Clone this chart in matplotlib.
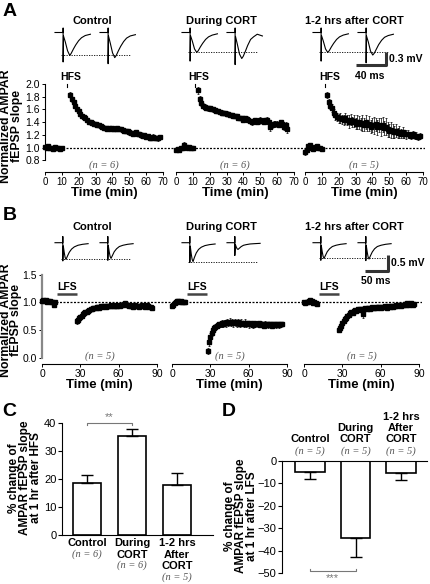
import numpy as np
import matplotlib.pyplot as plt
from matplotlib import transforms

plt.rcParams['font.family'] = ['Liberation Sans', 'DejaVu Sans']
plt.rcParams['axes.linewidth'] = 0.8

# ---------------- data ----------------
# Panel A: normalized AMPAR fEPSP slope after HFS (time in min)
a_ctrl_base = [1.01, 1.00, 1.02, 0.99, 1.00, 0.98, 1.01, 1.00, 0.99, 0.98, 0.99]
a_ctrl_base_err = [0.02, 0.02, 0.01, 0.02, 0.02, 0.02, 0.01, 0.02, 0.02, 0.02, 0.02]
a_ctrl_post = [1.83, 1.76, 1.72, 1.65, 1.60, 1.57, 1.53, 1.50, 1.48, 1.46,
               1.44, 1.41, 1.40, 1.39, 1.37, 1.38, 1.36, 1.35, 1.34, 1.33,
               1.31, 1.31, 1.30, 1.31, 1.30, 1.31, 1.30, 1.30, 1.31, 1.29,
               1.30, 1.28, 1.27, 1.26, 1.27, 1.24, 1.23, 1.21, 1.23, 1.24,
               1.22, 1.21, 1.20, 1.18, 1.20, 1.17, 1.18, 1.16, 1.15, 1.17,
               1.15, 1.16, 1.15, 1.17]
a_ctrl_post_err = [0.04, 0.04, 0.03, 0.03, 0.03, 0.03, 0.03, 0.03, 0.03, 0.03,
                   0.03, 0.03, 0.02, 0.03, 0.03, 0.02, 0.03, 0.03, 0.02, 0.03,
                   0.03, 0.02, 0.03, 0.02, 0.03, 0.02, 0.03, 0.03, 0.02, 0.03,
                   0.03, 0.03, 0.02, 0.03, 0.03, 0.04, 0.03, 0.03, 0.03, 0.02,
                   0.03, 0.03, 0.04, 0.03, 0.03, 0.03, 0.02, 0.03, 0.03, 0.04,
                   0.03, 0.03, 0.04, 0.03]
a_ctrl_post_start = 15

a_dur_base = [0.97, 0.98, 0.97, 0.99, 1.00, 1.05, 1.01, 1.00, 1.01, 1.00, 0.99]
a_dur_base_err = [0.02, 0.02, 0.03, 0.02, 0.02, 0.04, 0.02, 0.02, 0.02, 0.02, 0.02]
a_dur_post = [1.90, 1.77, 1.70, 1.66, 1.64, 1.63, 1.62, 1.62, 1.61, 1.60,
              1.59, 1.58, 1.58, 1.56, 1.55, 1.55, 1.54, 1.53, 1.53, 1.52,
              1.51, 1.50, 1.50, 1.49, 1.47, 1.46, 1.47, 1.44, 1.46, 1.45,
              1.44, 1.42, 1.40, 1.42, 1.43, 1.41, 1.42, 1.44, 1.42, 1.41,
              1.43, 1.44, 1.40, 1.32, 1.35, 1.38, 1.37, 1.38, 1.36, 1.40,
              1.37, 1.33, 1.36, 1.30]
a_dur_post_err = [0.05, 0.04, 0.04, 0.04, 0.04, 0.04, 0.04, 0.04, 0.03, 0.04,
                  0.03, 0.04, 0.03, 0.03, 0.04, 0.03, 0.03, 0.04, 0.03, 0.03,
                  0.03, 0.04, 0.03, 0.03, 0.04, 0.03, 0.03, 0.04, 0.03, 0.04,
                  0.04, 0.03, 0.04, 0.03, 0.04, 0.03, 0.04, 0.04, 0.03, 0.04,
                  0.04, 0.04, 0.03, 0.05, 0.04, 0.04, 0.05, 0.04, 0.04, 0.04,
                  0.05, 0.05, 0.04, 0.07]
a_dur_post_start = 13

a_aft_base = [0.93, 0.97, 1.02, 1.04, 1.00, 0.98, 1.01, 1.02, 0.99, 1.00, 0.98]
a_aft_base_err = [0.05, 0.03, 0.02, 0.03, 0.02, 0.02, 0.03, 0.02, 0.02, 0.02, 0.02]
a_aft_post = [1.83, 1.72, 1.66, 1.62, 1.55, 1.51, 1.48, 1.46, 1.47, 1.45,
              1.44, 1.46, 1.43, 1.41, 1.44, 1.40, 1.42, 1.38, 1.41, 1.40,
              1.37, 1.39, 1.36, 1.40, 1.35, 1.38, 1.33, 1.36, 1.35, 1.37,
              1.32, 1.35, 1.33, 1.36, 1.31, 1.33, 1.29, 1.27, 1.28, 1.26,
              1.25, 1.27, 1.23, 1.25, 1.22, 1.24, 1.22, 1.21, 1.22, 1.20,
              1.19, 1.21, 1.18, 1.19, 1.17, 1.18]
a_aft_post_err = [0.05, 0.05, 0.05, 0.06, 0.06, 0.07, 0.06, 0.07, 0.08, 0.07,
                  0.08, 0.09, 0.08, 0.10, 0.09, 0.08, 0.10, 0.09, 0.11, 0.10,
                  0.09, 0.12, 0.10, 0.11, 0.09, 0.12, 0.10, 0.11, 0.13, 0.10,
                  0.12, 0.11, 0.14, 0.12, 0.11, 0.13, 0.12, 0.10, 0.12, 0.11,
                  0.09, 0.10, 0.08, 0.09, 0.07, 0.08, 0.06, 0.07, 0.06, 0.05,
                  0.06, 0.05, 0.05, 0.06, 0.05, 0.05]
a_aft_post_start = 13

a_hfs_time = [13, 11, 12]
a_n = ['(n = 6)', '(n = 6)', '(n = 5)']

# Panel B: normalized AMPAR fEPSP slope after LFS
b_ctrl_base = [1.03, 1.05, 1.02, 1.04, 1.01, 1.03, 1.02, 1.00, 1.01, 0.95, 1.00]
b_ctrl_base_err = [0.02, 0.02, 0.02, 0.02, 0.01, 0.02, 0.02, 0.02, 0.02, 0.02, 0.02]
b_ctrl_post = [0.66, 0.68, 0.72, 0.73, 0.76, 0.78, 0.80, 0.82, 0.83, 0.85,
               0.86, 0.87, 0.88, 0.89, 0.90, 0.89, 0.91, 0.92, 0.90, 0.93,
               0.92, 0.93, 0.94, 0.92, 0.93, 0.94, 0.93, 0.95, 0.94, 0.93,
               0.95, 0.94, 0.93, 0.95, 0.94, 0.96, 0.95, 0.97, 0.98, 0.96,
               0.95, 0.94, 0.95, 0.93, 0.92, 0.94, 0.95, 0.93, 0.94, 0.92,
               0.94, 0.95, 0.93, 0.94, 0.92, 0.95, 0.93, 0.92, 0.91, 0.90]
b_ctrl_post_err = [0.06, 0.05, 0.05, 0.04, 0.04, 0.04, 0.03, 0.03, 0.03, 0.03,
                   0.03, 0.03, 0.02, 0.03, 0.02, 0.03, 0.02, 0.02, 0.03, 0.02,
                   0.02, 0.03, 0.02, 0.02, 0.03, 0.02, 0.02, 0.03, 0.02, 0.02,
                   0.03, 0.02, 0.02, 0.03, 0.02, 0.02, 0.03, 0.02, 0.02, 0.03,
                   0.02, 0.02, 0.03, 0.02, 0.02, 0.03, 0.02, 0.02, 0.03, 0.02,
                   0.02, 0.03, 0.02, 0.02, 0.03, 0.02, 0.02, 0.03, 0.02, 0.02]
b_ctrl_post_start = 27

b_dur_base = [0.94, 0.96, 0.98, 1.00, 1.02, 1.03, 1.01, 1.02, 1.00, 1.01, 1.01]
b_dur_base_err = [0.02, 0.02, 0.02, 0.02, 0.02, 0.02, 0.02, 0.02, 0.02, 0.02, 0.02]
b_dur_post = [0.12, 0.28, 0.38, 0.45, 0.50, 0.53, 0.56, 0.58, 0.59, 0.60,
              0.61, 0.62, 0.61, 0.63, 0.62, 0.64, 0.63, 0.65, 0.63, 0.64,
              0.62, 0.65, 0.63, 0.62, 0.64, 0.61, 0.63, 0.62, 0.60, 0.63,
              0.61, 0.62, 0.60, 0.62, 0.61, 0.59, 0.62, 0.60, 0.61, 0.60,
              0.62, 0.59, 0.61, 0.60, 0.58, 0.61, 0.60, 0.59, 0.61, 0.60,
              0.58, 0.60, 0.61, 0.59, 0.60, 0.61, 0.59, 0.60, 0.61]
b_dur_post_err = [0.06, 0.07, 0.06, 0.06, 0.05, 0.06, 0.05, 0.05, 0.06, 0.05,
                  0.05, 0.06, 0.05, 0.05, 0.06, 0.05, 0.05, 0.06, 0.05, 0.05,
                  0.06, 0.05, 0.05, 0.06, 0.05, 0.05, 0.06, 0.05, 0.05, 0.06,
                  0.05, 0.05, 0.06, 0.05, 0.05, 0.06, 0.05, 0.05, 0.04, 0.05,
                  0.05, 0.04, 0.05, 0.05, 0.04, 0.05, 0.04, 0.05, 0.04, 0.04,
                  0.05, 0.04, 0.04, 0.05, 0.04, 0.04, 0.05, 0.04, 0.04]
b_dur_post_start = 28

b_aft_base = [1.00, 0.99, 1.01, 1.00, 1.03, 1.05, 1.02, 0.98, 1.01, 0.99, 0.97]
b_aft_base_err = [0.02, 0.02, 0.02, 0.02, 0.02, 0.03, 0.02, 0.02, 0.02, 0.02, 0.02]
b_aft_post = [0.50, 0.53, 0.58, 0.62, 0.66, 0.69, 0.72, 0.75, 0.77, 0.80,
              0.82, 0.81, 0.84, 0.86, 0.85, 0.87, 0.86, 0.88, 0.87, 0.78,
              0.88, 0.89, 0.87, 0.90, 0.89, 0.88, 0.91, 0.90, 0.89, 0.91,
              0.90, 0.92, 0.91, 0.90, 0.92, 0.91, 0.93, 0.92, 0.90, 0.93,
              0.92, 0.94, 0.93, 0.92, 0.94, 0.95, 0.93, 0.95, 0.96, 0.94,
              0.96, 0.95, 0.97, 0.96, 0.98, 0.96, 0.97, 0.98, 0.96, 0.97]
b_aft_post_err = [0.03, 0.04, 0.04, 0.04, 0.03, 0.04, 0.04, 0.03, 0.04, 0.04,
                  0.03, 0.04, 0.03, 0.03, 0.04, 0.03, 0.03, 0.04, 0.03, 0.06,
                  0.03, 0.04, 0.03, 0.03, 0.04, 0.03, 0.03, 0.04, 0.03, 0.03,
                  0.03, 0.02, 0.03, 0.03, 0.02, 0.03, 0.03, 0.02, 0.03, 0.03,
                  0.02, 0.03, 0.02, 0.03, 0.02, 0.03, 0.02, 0.02, 0.03, 0.02,
                  0.02, 0.03, 0.02, 0.02, 0.03, 0.02, 0.02, 0.02, 0.03, 0.02]
b_aft_post_start = 27

b_lfs_window = (12, 27)
b_n = ['(n = 5)', '(n = 5)', '(n = 5)']

conditions = ['Control', 'During CORT', '1-2 hrs after CORT']

# example fEPSP traces (ms, mV relative to baseline)
a_trace_t = [0, 11, 11, 11, 11.5, 14, 17, 20, 22, 25, 28, 32, 36, 41, 48]
a_ctrl_tr = [[0, 0, 0.10, -0.68, -0.08, -0.22, -0.42, -0.53, -0.48, -0.38, -0.29, -0.19, -0.12, -0.07, -0.04],
             [0, 0, 0.10, -0.72, -0.08, -0.25, -0.47, -0.58, -0.53, -0.42, -0.32, -0.21, -0.13, -0.08, -0.05]]
a_dur_tr = [[0, 0, 0.10, -0.66, -0.07, -0.20, -0.38, -0.46, -0.42, -0.33, -0.25, -0.16, -0.10, -0.06, -0.03],
            [0, 0, 0.10, -0.74, -0.09, -0.27, -0.50, -0.60, -0.55, -0.43, -0.30, -0.16, -0.10, -0.04, -0.08]]
a_aft_tr = [[0, 0, 0.10, -0.66, -0.07, -0.20, -0.38, -0.46, -0.42, -0.33, -0.25, -0.16, -0.10, -0.06, -0.03],
            [0, 0, 0.10, -0.70, -0.08, -0.22, -0.43, -0.52, -0.48, -0.38, -0.28, -0.18, -0.11, -0.07, -0.04]]

b_trace_t = [0, 17, 17, 17, 18, 20, 22, 24, 27, 31, 36, 42, 50, 60, 72]
b_ctrl_tr = [[0, 0, 0.19, -0.57, -0.10, -0.30, -0.46, -0.52, -0.42, -0.30, -0.20, -0.13, -0.08, -0.05, -0.03],
             [0, 0, 0.19, -0.55, -0.09, -0.28, -0.43, -0.49, -0.40, -0.28, -0.19, -0.12, -0.08, -0.05, -0.03]]
b_dur_tr = [[0, 0, 0.19, -0.62, -0.11, -0.34, -0.52, -0.59, -0.46, -0.32, -0.21, -0.14, -0.09, -0.06, -0.04],
            [0, 0, 0.19, -0.40, -0.05, -0.13, -0.19, -0.21, -0.17, -0.12, -0.08, -0.06, -0.04, -0.03, -0.02]]
b_aft_tr = [[0, 0, 0.19, -0.55, -0.09, -0.28, -0.43, -0.49, -0.40, -0.28, -0.19, -0.12, -0.08, -0.05, -0.03],
            [0, 0, 0.19, -0.56, -0.09, -0.29, -0.45, -0.51, -0.41, -0.29, -0.19, -0.12, -0.08, -0.05, -0.03]]

# Panels C and D: % change at 1 hr
c_labels = ['Control', 'During\nCORT', '1-2 hrs\nAfter\nCORT']
c_n = ['(n = 6)', '(n = 6)', '(n = 5)']
c_mean = [18.5, 35.2, 17.9]
c_sem = [3.0, 2.7, 4.4]

d_labels = ['Control', 'During\nCORT', '1-2 hrs\nAfter\nCORT']
d_n = ['(n = 5)', '(n = 5)', '(n = 5)']
d_mean = [-5.1, -34.5, -5.5]
d_sem = [3.1, 8.3, 3.1]

# ---------------- layout helpers (pixel coords) ----------------
W, H = 430, 584
fig = plt.figure(figsize=(W / 100, H / 100), dpi=100)


def box(x0, y0, x1, y1):
    return fig.add_axes([x0 / W, 1 - y1 / H, (x1 - x0) / W, (y1 - y0) / H])


def ftext(x, y, s, **kw):
    fig.text(x / W, 1 - y / H, s, **kw)


bold = dict(fontweight='bold')
nstyle = dict(family=['Liberation Serif', 'DejaVu Serif'], style='italic',
              color='#555555', fontsize=7.5)


def course(ax, start, vals, errs):
    t = np.arange(start, start + len(vals))
    ax.errorbar(t, vals, yerr=errs, fmt='s', ms=2.4, color='black',
                ecolor='black', elinewidth=0.5, capsize=1.0, capthick=0.5,
                clip_on=False, zorder=3)


def traces(left, top, bottom, base_y, ms_px, mv_px, t, trs, gap_px):
    ax = box(left, top, left + 85, bottom)
    ax.set_xlim(0, 85 * ms_px)
    ax.set_ylim(-(bottom - base_y) * mv_px, (base_y - top) * mv_px)
    ax.axis('off')
    off = gap_px * ms_px
    for k, v in enumerate(trs):
        ax.plot(np.array(t) + k * off, v, color='black', lw=0.8, clip_on=False)
    ax.plot([t[0] + 6 * ms_px, off + t[1] + 22 * ms_px], [min(trs[0][4:])] * 2,
            color='black', lw=0.6, ls=(0, (1.5, 1.5)), clip_on=False)
    return ax


# ---------------- Panel A ----------------
ftext(3, 12, 'A', fontsize=14, va='center', ha='left', **bold)
title_x = [92.5, 221, 354.5]
for x, s in zip(title_x, conditions):
    ftext(x, 21.5, s, fontsize=8, ha='center', va='center', **bold)
    ftext(x, 226.5, s, fontsize=8, ha='center', va='center', **bold)

ms_a, mv_a = 40 / 29.5, 0.3 / 13
for left, trs in zip([55, 182, 313], [a_ctrl_tr, a_dur_tr, a_aft_tr]):
    tax = traces(left, 25, 65, 32.5, ms_a, mv_a, a_trace_t, trs, 45)
xe = (385.5 - 313) * ms_a
yb = -(65 - 32.5) * mv_a
tax.plot([xe - 40, xe, xe], [yb, yb, yb + 0.3], color='#333333', lw=2.2,
         solid_capstyle='butt', clip_on=False)
ftext(389, 59, '0.3 mV', fontsize=7.5, ha='left', va='center', **bold)
ftext(370, 76, '40 ms', fontsize=7.5, ha='center', va='center', **bold)

bg = box(45, 84, 425, 172)
bg.set_ylim(0.619, 2.0)
bg.axis('off')
bg.axhline(1.0, color='black', lw=0.9, ls=(0, (1.6, 1.2)))

a_sets = [(a_ctrl_base, a_ctrl_base_err, a_ctrl_post_start, a_ctrl_post, a_ctrl_post_err),
          (a_dur_base, a_dur_base_err, a_dur_post_start, a_dur_post, a_dur_post_err),
          (a_aft_base, a_aft_base_err, a_aft_post_start, a_aft_post, a_aft_post_err)]
for i, (left, st) in enumerate(zip([45, 176, 305], a_sets)):
    ax = box(left, 84, left + 118, 172)
    ax.patch.set_alpha(0)
    ax.set_xlim(0, 70)
    ax.set_ylim(0.619, 2.0)
    course(ax, 0, st[0], st[1])
    course(ax, st[2], st[3], st[4])
    ax.set_xticks(range(0, 71, 10))
    ax.tick_params(labelsize=7, length=2.5, width=0.7, pad=1)
    ax.spines[['top', 'right']].set_visible(False)
    ax.set_xlabel('Time (min)', fontsize=9.5, labelpad=0, **bold)
    h = a_hfs_time[i]
    ax.plot([h, h], [1.95, 2.0], color='black', lw=0.8, clip_on=False)
    ax.text(h + 2.5, 2.03, 'HFS', fontsize=7.5, ha='center', va='bottom', **bold)
    ax.text(35, 0.73, a_n[i], ha='center', va='center', **nstyle)
    if i == 0:
        ax.spines['left'].set_bounds(0.8, 2.0)
        ax.set_yticks([0.8, 1.0, 1.2, 1.4, 1.6, 1.8, 2.0])
        ax.set_yticklabels(['0.8', '1.0', '1.2', '1.4', '1.6', '1.8', '2.0'])
        ax.tick_params(axis='y', labelsize=7.5)
    else:
        ax.spines['left'].set_visible(False)
        ax.set_yticks([])
ftext(11.5, 126, 'Normalized AMPAR\nfEPSP slope', fontsize=8.8, rotation=90,
      ha='center', va='center', linespacing=0.85, **bold)

# ---------------- Panel B ----------------
ftext(3, 216, 'B', fontsize=14, va='center', ha='left', **bold)
ms_b, mv_b = 50 / 23, 0.5 / 16
for left, trs in zip([55, 182, 313], [b_ctrl_tr, b_dur_tr, b_aft_tr]):
    tbx = traces(left, 230, 272, 242.7, ms_b, mv_b, b_trace_t, trs, 45)
xe = (388 - 313) * ms_b
yb = -(271 - 242.7) * mv_b
tbx.plot([xe - 50, xe, xe], [yb, yb, yb + 0.5], color='#333333', lw=2.2,
         solid_capstyle='butt', clip_on=False)
ftext(391, 263, '0.5 mV', fontsize=7.5, ha='left', va='center', **bold)
ftext(376, 281, '50 ms', fontsize=7.5, ha='center', va='center', **bold)

bg = box(42, 274.6, 422, 364)
bg.set_ylim(-0.114, 1.5)
bg.axis('off')
bg.axhline(1.0, color='black', lw=0.9, ls=(0, (1.6, 1.2)))

b_sets = [(b_ctrl_base, b_ctrl_base_err, b_ctrl_post_start, b_ctrl_post, b_ctrl_post_err),
          (b_dur_base, b_dur_base_err, b_dur_post_start, b_dur_post, b_dur_post_err),
          (b_aft_base, b_aft_base_err, b_aft_post_start, b_aft_post, b_aft_post_err)]
for i, (left, st) in enumerate(zip([42, 172, 304], b_sets)):
    ax = box(left, 274.6, left + 115, 364)
    ax.patch.set_alpha(0)
    ax.set_xlim(0, 90)
    ax.set_ylim(-0.114, 1.5)
    course(ax, 0, st[0], st[1])
    course(ax, st[2], st[3], st[4])
    ax.set_xticks([0, 30, 60, 90])
    ax.tick_params(labelsize=7.5, length=2.5, width=0.7, pad=1)
    ax.spines[['top', 'right']].set_visible(False)
    ax.set_xlabel('Time (min)', fontsize=9.5, labelpad=0, **bold)
    ax.plot(b_lfs_window, [1.15, 1.15], color='#444444', lw=1.8,
            solid_capstyle='butt', clip_on=False)
    ax.text(sum(b_lfs_window) / 2, 1.18, 'LFS', fontsize=7.5, ha='center',
            va='bottom', **bold)
    ax.text(45, 0.02, b_n[i], ha='center', va='center', **nstyle)
    if i == 0:
        ax.spines['left'].set_bounds(0, 1.5)
        ax.spines['left'].set_color('#888888')
        ax.spines['left'].set_linewidth(1.6)
        ax.set_yticks([0.0, 0.5, 1.0, 1.5])
        ax.set_yticklabels(['0.0', '0.5', '1.0', '1.5'])
    else:
        ax.spines['left'].set_visible(False)
        ax.set_yticks([])
ftext(11, 320, 'Normalized AMPAR\nfEPSP slope', fontsize=8.8, rotation=90,
      ha='center', va='center', linespacing=0.85, **bold)

# ---------------- Panel C ----------------
ftext(2, 411, 'C', fontsize=14, va='center', ha='left', **bold)
axc = box(62, 423, 213, 535)
x = np.arange(len(c_mean))
axc.bar(x, c_mean, width=0.63, color='white', edgecolor='black', lw=1.2)
axc.errorbar(x, c_mean, yerr=[[0] * 3, c_sem], fmt='none', ecolor='black',
             elinewidth=1.0, capsize=4, capthick=1.0)
axc.set_xlim(-0.556, 2.8)
axc.set_ylim(0, 40)
axc.set_yticks([0, 10, 20, 30, 40])
axc.set_xticks([])
axc.spines[['top', 'right']].set_visible(False)
axc.tick_params(labelsize=8, length=3, width=0.8, pad=1)
axc.plot([0, 0, 1, 1], [39.2, 40, 40, 39.2], color='#777777', lw=0.8, clip_on=False)
axc.text(0.5, 40.3, '**', ha='center', va='bottom', color='#777777', fontsize=8)
trc = transforms.blended_transform_factory(axc.transData, fig.transFigure)
for i, (lab, n) in enumerate(zip(c_labels, c_n)):
    lines = lab.split('\n')
    for j, ln in enumerate(lines):
        axc.text(i, 1 - (543 + 11.5 * j) / H, ln, transform=trc, ha='center',
                 va='center', fontsize=8, **bold)
    axc.text(i, 1 - (542.5 + 11.5 * len(lines)) / H, n, transform=trc,
             ha='center', va='center', **nstyle)
ftext(25, 478, '% change of\nAMPAR fEPSP slope\nat 1 hr after HFS', fontsize=8.5,
      rotation=90, ha='center', va='center', linespacing=0.85, **bold)

# ---------------- Panel D ----------------
ftext(222, 412, 'D', fontsize=14, va='center', ha='left', **bold)
axd = box(282, 461, 427, 573)
x = np.arange(len(d_mean))
axd.bar(x, d_mean, width=0.64, color='white', edgecolor='black', lw=1.2)
axd.errorbar(x, d_mean, yerr=[d_sem, [0] * 3], fmt='none', ecolor='black',
             elinewidth=1.0, capsize=4, capthick=1.0)
axd.set_xlim(-0.615, 2.57)
axd.set_ylim(-50, 0)
axd.set_yticks([0, -10, -20, -30, -40, -50])
axd.set_xticks([])
axd.spines[['bottom', 'right']].set_visible(False)
axd.tick_params(labelsize=8, length=3, width=0.8, pad=1)
axd.plot([0, 0, 1, 1], [-48.0, -49.1, -49.1, -48.0], color='#777777', lw=0.8, clip_on=False)
axd.text(0.5, -50.2, '***', ha='center', va='top', color='#777777', fontsize=8)
trd = transforms.blended_transform_factory(axd.transData, fig.transFigure)
for i, (lab, n) in enumerate(zip(d_labels, d_n)):
    lines = lab.split('\n')
    for j, ln in enumerate(lines[::-1]):
        axd.text(i, 1 - (439.5 - 11.5 * j) / H, ln, transform=trd, ha='center',
                 va='center', fontsize=8, **bold)
    axd.text(i, 1 - 451 / H, n, transform=trd, ha='center', va='center', **nstyle)
ftext(241, 516, '% change of\nAMPAR fEPSP slope\nat 1 hr after LFS', fontsize=8.5,
      rotation=90, ha='center', va='center', linespacing=0.85, **bold)

fig.savefig('out.png', dpi=100)
